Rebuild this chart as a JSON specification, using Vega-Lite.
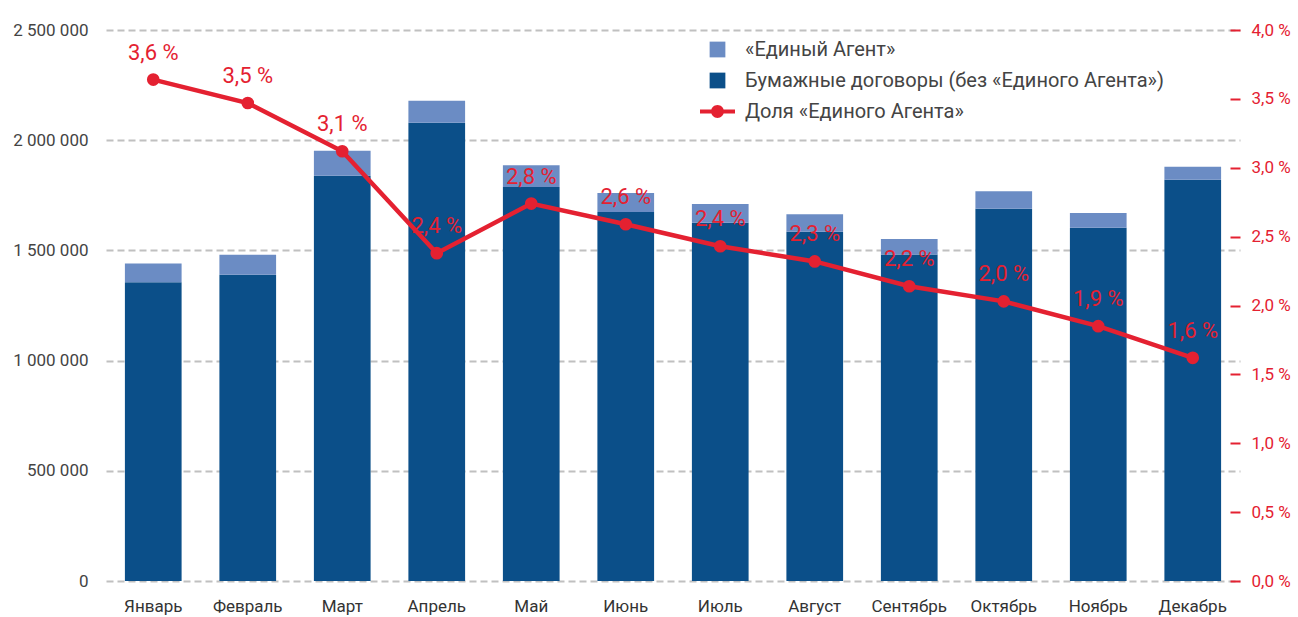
{
  "$schema": "https://vega.github.io/schema/vega-lite/v6.json",
  "autosize": "none",
  "width": 1134,
  "height": 551,
  "padding": {"left": 106, "top": 30, "right": 58, "bottom": 36},
  "background": "white",
  "config": {
    "view": {"stroke": null},
    "font": "Roboto",
    "locale": {"number": {"decimal": ",", "thousands": " ", "grouping": [3], "currency": ["", ""]}}
  },
  "data": {"values": [
    {"month": "Январь", "paper": 1355000, "agent": 86000, "share": 3.64, "label": "3,6 %"},
    {"month": "Февраль", "paper": 1390000, "agent": 90000, "share": 3.47, "label": "3,5 %"},
    {"month": "Март", "paper": 1839000, "agent": 113000, "share": 3.12, "label": "3,1 %"},
    {"month": "Апрель", "paper": 2079000, "agent": 100000, "share": 2.38, "label": "2,4 %"},
    {"month": "Май", "paper": 1788000, "agent": 98000, "share": 2.74, "label": "2,8 %"},
    {"month": "Июнь", "paper": 1674000, "agent": 86000, "share": 2.59, "label": "2,6 %"},
    {"month": "Июль", "paper": 1626000, "agent": 85000, "share": 2.43, "label": "2,4 %"},
    {"month": "Август", "paper": 1585000, "agent": 79000, "share": 2.32, "label": "2,3 %"},
    {"month": "Сентябрь", "paper": 1481000, "agent": 71000, "share": 2.14, "label": "2,2 %"},
    {"month": "Октябрь", "paper": 1689000, "agent": 79000, "share": 2.03, "label": "2,0 %"},
    {"month": "Ноябрь", "paper": 1603000, "agent": 67000, "share": 1.85, "label": "1,9 %"},
    {"month": "Декабрь", "paper": 1821000, "agent": 59000, "share": 1.62, "label": "1,6 %"}
  ]},
  "encoding": {
    "x": {
      "field": "month", "type": "nominal", "sort": null,
      "scale": {"paddingInner": 0.4, "paddingOuter": 0.2},
      "axis": {"title": null, "labelAngle": 0, "ticks": false, "domain": false, "labelPadding": 17, "labelFontSize": 17, "labelColor": "#333333", "labelFont": "Roboto"}
    }
  },
  "layer": [
    {
      "transform": [{"fold": ["paper", "agent"], "as": ["key", "value"]}],
      "mark": {"type": "bar"},
      "encoding": {
        "y": {
          "field": "value", "type": "quantitative", "stack": "zero",
          "scale": {"domain": [0, 2500000], "nice": false},
          "axis": {"title": null, "orient": "left", "values": [0, 500000, 1000000, 1500000, 2000000, 2500000], "format": ",d", "domain": false, "ticks": false, "labelPadding": 18, "labelFontSize": 17, "labelColor": "#444444", "labelFont": "Roboto", "grid": true, "gridColor": "#c0c0c0", "gridDash": [7, 4], "gridWidth": 2}
        },
        "order": {"field": "key", "sort": "descending"},
        "color": {
          "field": "key", "type": "nominal",
          "scale": {"domain": ["agent", "paper", "share"], "range": ["#6b8cc4", "#0b4f89", "#e42131"]},
          "legend": {
            "title": null, "orient": "none", "legendX": 594, "legendY": 2,
            "labelExpr": "datum.value == 'agent' ? '«Единый Агент»' : datum.value == 'paper' ? 'Бумажные договоры (без «Единого Агента»)' : 'Доля «Единого Агента»'",
            "labelFontSize": 20, "labelColor": "#444444", "labelFont": "Roboto", "labelLimit": 0, "labelOffset": 10,
            "symbolSize": 1225, "symbolStrokeWidth": 0, "rowPadding": 3,
            "encode": {"symbols": {"update": {
              "shape": [
                {"test": "datum.value == 'share'", "value": "M-1,-0.11 L1,-0.11 L1,0.11 L-1,0.11 Z M0.37,0 A0.37,0.37 0 1 1 -0.37,0 A0.37,0.37 0 1 1 0.37,0 Z"},
                {"value": "M-0.45,-0.45 L0.45,-0.45 L0.45,0.45 L-0.45,0.45 Z"}
              ],
              "strokeWidth": {"value": 0},
              "opacity": {"value": 1}
            }}}
          }
        }
      }
    },
    {
      "encoding": {
        "y": {
          "field": "share", "type": "quantitative",
          "scale": {"domain": [0, 4], "nice": false},
          "axis": {"title": null, "orient": "right", "values": [0, 0.5, 1, 1.5, 2, 2.5, 3, 3.5, 4], "labelExpr": "format(datum.value, '.1f') + ' %'", "domain": false, "grid": false, "ticks": true, "tickColor": "#e42131", "tickWidth": 2, "tickSize": -10, "labelPadding": 21, "labelFontSize": 17, "labelColor": "#e42131", "labelFont": "Roboto"}
        }
      },
      "layer": [
        {
          "mark": {"type": "line", "strokeWidth": 4.5, "point": {"filled": true, "size": 160}},
          "encoding": {"color": {"datum": "share", "type": "nominal"}}
        },
        {
          "mark": {"type": "text", "dy": -27, "fontSize": 22, "color": "#e42131", "font": "Roboto", "baseline": "middle"},
          "encoding": {"text": {"field": "label"}}
        }
      ]
    }
  ],
  "resolve": {"scale": {"y": "independent"}}
}
